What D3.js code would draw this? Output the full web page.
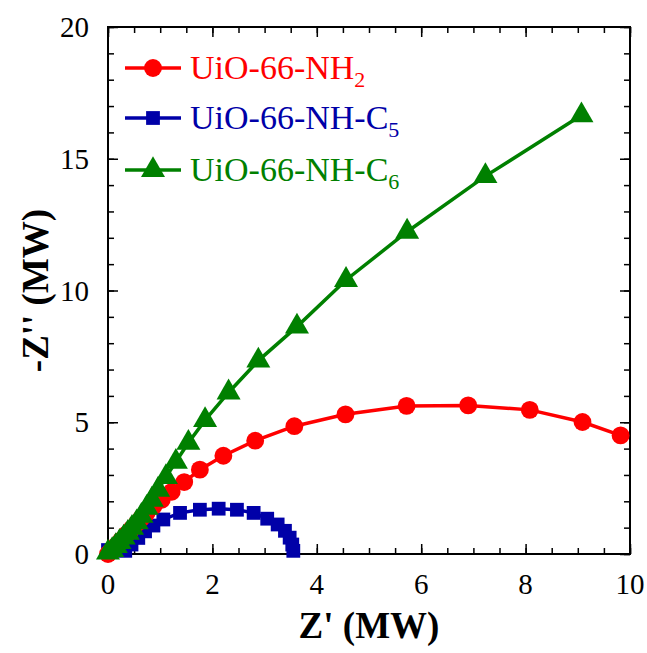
<!DOCTYPE html>
<html><head><meta charset="utf-8">
<script src="https://cdn.jsdelivr.net/npm/d3@7"></script>
<style>html,body{margin:0;padding:0;background:#fff;}</style>
</head><body>
<svg id="chart" width="647" height="653"></svg>
<script>
// Data (Z' in MΩ, -Z'' in MΩ)
const seriesNames = ["UiO-66-NH", "UiO-66-NH-C", "UiO-66-NH-C"];
const seriesSubs = ["2", "5", "6"];
const xTicks = [0, 2, 4, 6, 8, 10];
const yTicks = [0, 5, 10, 15, 20];

const blueX = [0.0, 0.33, 0.45, 0.58, 0.71, 0.87, 1.06, 1.38, 1.76, 2.12, 2.47, 2.79, 3.05, 3.25, 3.39, 3.48, 3.53, 3.55];
const blueY = [0.15, 0.12, 0.36, 0.61, 0.86, 1.08, 1.31, 1.56, 1.68, 1.72, 1.68, 1.56, 1.34, 1.12, 0.88, 0.62, 0.36, 0.12];

const redX = [0.0, 0.05, 0.15, 0.25, 0.35, 0.45, 0.55, 0.64, 0.74, 0.87, 1.03, 1.22, 1.46, 1.76, 2.21, 2.82, 3.57, 4.55, 5.72, 6.90, 8.08, 9.09, 9.82];
const redY = [0.0, 0.10, 0.30, 0.52, 0.74, 0.95, 1.16, 1.36, 1.56, 1.81, 2.06, 2.36, 2.73, 3.20, 3.73, 4.30, 4.85, 5.30, 5.62, 5.64, 5.47, 5.01, 4.50];

const greenX = [0.0, 0.08, 0.15, 0.22, 0.30, 0.38, 0.46, 0.55, 0.64, 0.74, 0.84, 0.96, 1.11, 1.30, 1.54, 1.86, 2.31, 2.88, 3.62, 4.56, 5.73, 7.23, 9.07];
const greenY = [0.05, 0.15, 0.30, 0.45, 0.62, 0.80, 0.99, 1.20, 1.45, 1.75, 2.06, 2.44, 2.92, 3.50, 4.22, 5.08, 6.13, 7.34, 8.63, 10.40, 12.23, 14.34, 16.65];

const colors = {red: "#ff0000", blue: "#0000a8", green: "#008000"};

const svg = d3.select("#chart");
const L = 108, R = 630, T = 27, B = 554;
const x = d3.scaleLinear().domain([0, 10]).range([L, R]);
const y = d3.scaleLinear().domain([0, 20]).range([B, T]);
const font = "'Liberation Serif','Times New Roman',serif";

// Axes with inward ticks
function minor(step, max) { return d3.range(0, max + 1e-9, step); }
const xMinor = minor(0.5, 10), yMinor = minor(1, 20);

svg.append("g").attr("transform", `translate(0,${B})`)
  .call(d3.axisBottom(x).tickValues(xMinor).tickSize(-6).tickFormat(""));
svg.append("g").attr("transform", `translate(0,${B})`)
  .call(d3.axisBottom(x).tickValues(xTicks).tickSize(-10).tickFormat(""));
svg.append("g").attr("transform", `translate(0,${T})`)
  .call(d3.axisTop(x).tickValues(xMinor).tickSize(-6).tickFormat(""));
svg.append("g").attr("transform", `translate(0,${T})`)
  .call(d3.axisTop(x).tickValues(xTicks).tickSize(-10).tickFormat(""));
svg.append("g").attr("transform", `translate(${L},0)`)
  .call(d3.axisLeft(y).tickValues(yMinor).tickSize(-6).tickFormat(""));
svg.append("g").attr("transform", `translate(${L},0)`)
  .call(d3.axisLeft(y).tickValues(yTicks).tickSize(-10).tickFormat(""));
svg.append("g").attr("transform", `translate(${R},0)`)
  .call(d3.axisRight(y).tickValues(yMinor).tickSize(-6).tickFormat(""));
svg.append("g").attr("transform", `translate(${R},0)`)
  .call(d3.axisRight(y).tickValues(yTicks).tickSize(-10).tickFormat(""));
svg.selectAll(".domain").remove();
svg.selectAll(".tick line").attr("stroke", "#000").attr("stroke-width", 1.5);

svg.append("rect").attr("x", L).attr("y", T).attr("width", R - L).attr("height", B - T)
  .attr("fill", "none").attr("stroke", "#000").attr("stroke-width", 2);

// Tick labels
svg.append("g").selectAll("text").data(xTicks).join("text")
  .attr("x", d => x(d)).attr("y", 594).attr("text-anchor", "middle")
  .attr("font-family", font).attr("font-size", 29).attr("fill", "#000").text(d => d);
svg.append("g").selectAll("text").data(yTicks).join("text")
  .attr("x", 89).attr("y", d => y(d) + 10).attr("text-anchor", "end")
  .attr("font-family", font).attr("font-size", 29).attr("fill", "#000").text(d => d);

// Axis titles
svg.append("text").attr("x", x(5)).attr("y", 638).attr("text-anchor", "middle")
  .attr("font-family", font).attr("font-weight", "bold").attr("font-size", 37).attr("fill", "#000")
  .text("Z' (MW)");
svg.append("text").attr("transform", `translate(48,${(T + B) / 2}) rotate(-90)`)
  .attr("text-anchor", "middle")
  .attr("font-family", font).attr("font-weight", "bold").attr("font-size", 37).attr("fill", "#000")
  .text("-Z'' (MW)");

// Series
const line = d3.line().x(d => x(d[0])).y(d => y(d[1]));
function series(xs, ys) { return xs.map((v, i) => [v, ys[i]]); }
const blue = series(blueX, blueY), red = series(redX, redY), green = series(greenX, greenY);

const plot = svg.append("g");
const sym = {
  square: d3.symbol().type(d3.symbolSquare).size(190),
  circle: d3.symbol().type(d3.symbolCircle).size(250),
  triangle: d3.symbol().type(d3.symbolTriangle).size(250)
};
function draw(data, color, shape) {
  plot.append("path").datum(data).attr("d", line).attr("fill", "none")
    .attr("stroke", color).attr("stroke-width", 3.5);
  plot.append("g").selectAll("path").data(data).join("path")
    .attr("transform", d => `translate(${x(d[0])},${y(d[1])})`)
    .attr("d", sym[shape]).attr("fill", color);
}
draw(blue, colors.blue, "square");
draw(red, colors.red, "circle");
draw(green, colors.green, "triangle");

// Legend
const legend = [
  {name: seriesNames[0], sub: seriesSubs[0], color: colors.red, shape: "circle", cy: 68},
  {name: seriesNames[1], sub: seriesSubs[1], color: colors.blue, shape: "square", cy: 118},
  {name: seriesNames[2], sub: seriesSubs[2], color: colors.green, shape: "triangle", cy: 170}
];
legend.forEach(l => {
  svg.append("line").attr("x1", 125).attr("x2", 181).attr("y1", l.cy).attr("y2", l.cy)
    .attr("stroke", l.color).attr("stroke-width", 3.5);
  svg.append("path").attr("transform", `translate(153,${l.cy})`).attr("d", sym[l.shape]).attr("fill", l.color);
  const t = svg.append("text").attr("x", 190).attr("y", l.cy + 11)
    .attr("font-family", font).attr("font-size", 34).attr("fill", l.color);
  t.append("tspan").text(l.name);
  t.append("tspan").attr("dy", 8).attr("font-size", 22).text(l.sub);
});
</script>
</body></html>
